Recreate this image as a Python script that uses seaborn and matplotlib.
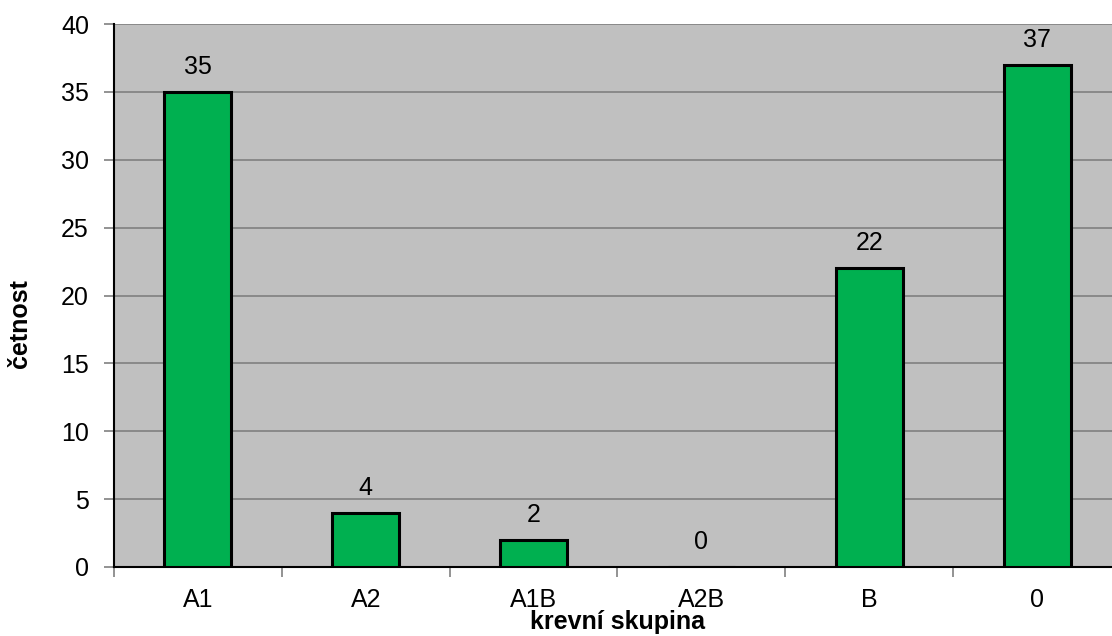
import matplotlib
matplotlib.use("Agg")
import matplotlib.pyplot as plt
import seaborn as sns
import pandas as pd

# Blood group frequencies
groups = ["A1", "A2", "A1B", "A2B", "B", "0"]
counts = [35, 4, 2, 0, 22, 37]
y_ticks = [0, 5, 10, 15, 20, 25, 30, 35, 40]

sns.set_theme(style="white")
plt.rcParams["font.family"] = ["Liberation Sans", "DejaVu Sans"]
plt.rcParams["text.color"] = "black"
plt.rcParams["xtick.labelcolor"] = "black"
plt.rcParams["ytick.labelcolor"] = "black"

df = pd.DataFrame({"group": groups, "count": counts})

fig = plt.figure(figsize=(11.12, 6.36), dpi=100)
ax = fig.add_axes([114 / 1112, (636 - 567) / 636, (1121 - 114) / 1112, (567 - 24) / 636])
ax.set_facecolor("#C0C0C0")

sns.barplot(data=df, x="group", y="count", order=groups, color="#00B050",
            saturation=1, width=0.4, edgecolor="black", linewidth=2.2, ax=ax, zorder=3)

ax.set_xlim(-0.5, len(groups) - 0.5)
ax.set_ylim(0, 40)
ax.set_yticks(y_ticks)
ax.yaxis.grid(True, color="#808080", linewidth=1.2, zorder=0)
ax.set_axisbelow(True)

for i, v in enumerate(counts):
    ax.annotate(str(v), (i, v), xytext=(0, 13), textcoords="offset points",
                ha="center", va="baseline", fontsize=18, color="black")

# Category boundaries as tick marks, names centred between them
ax.set_xticks([i - 0.5 for i in range(len(groups))], minor=False)
ax.set_xticklabels([])
ax.set_xticks(range(len(groups)), minor=True)
ax.set_xticklabels(groups, minor=True, fontsize=18, color="black")
ax.tick_params(axis="x", which="major", length=7, width=1.2, color="#808080", direction="out", bottom=True)
ax.tick_params(axis="x", which="minor", length=0, pad=15)
ax.tick_params(axis="y", length=7, width=1.2, color="#808080", direction="out", left=True,
               labelsize=18, labelcolor="black", pad=11)

for side in ["top", "right"]:
    ax.spines[side].set_visible(False)
ax.spines["left"].set_color("black")
ax.spines["left"].set_linewidth(1.5)
ax.spines["bottom"].set_color("black")
ax.spines["bottom"].set_linewidth(1.5)

ax.set_xlabel("")
ax.set_ylabel("")
fig.text(618 / 1112, 1 - 622 / 636, "krevní skupina", ha="center", va="center",
         fontsize=18, fontweight="bold", color="black")
fig.text(20 / 1112, 1 - 324 / 636, "četnost", ha="center", va="center",
         fontsize=18, fontweight="bold", rotation=90, color="black")

fig.savefig("out.png", dpi=100, facecolor="white")
